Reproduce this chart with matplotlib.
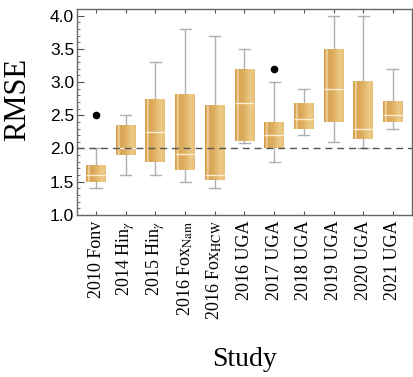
import numpy as np
import matplotlib
matplotlib.use("Agg")
from matplotlib import pyplot as plt
from matplotlib.colors import LinearSegmentedColormap
from matplotlib.patches import Rectangle

# box statistics
studies = ["2010 Fonv", "2014 Hin$_{\\gamma}$", "2015 Hin$_{\\gamma}$",
           "2016 Fox$_{\\rm Nam}$", "2016 Fox$_{\\rm HCW}$", "2016 UGA",
           "2017 UGA", "2018 UGA", "2019 UGA", "2020 UGA", "2021 UGA"]
whislo = [1.40, 1.60, 1.60, 1.50, 1.40, 2.09, 1.80, 2.20, 2.10, 2.00, 2.30]
q1 = [1.50, 1.90, 1.80, 1.67, 1.52, 2.12, 2.01, 2.30, 2.40, 2.15, 2.40]
med = [1.60, 2.00, 2.25, 1.91, 1.60, 2.69, 2.20, 2.45, 2.90, 2.30, 2.50]
q3 = [1.75, 2.35, 2.74, 2.82, 2.66, 3.20, 2.40, 2.69, 3.50, 3.02, 2.71]
whishi = [2.00, 2.50, 3.30, 3.80, 3.70, 3.50, 3.00, 2.90, 4.00, 4.00, 3.20]
fliers = [[2.50], [], [], [], [], [], [3.20], [], [], [], []]
baseline = 2.0

plt.rcParams['mathtext.fontset'] = 'stix'

stats = []
for i in range(len(studies)):
    stats.append(dict(whislo=whislo[i], q1=q1[i], med=med[i], q3=q3[i],
                      whishi=whishi[i], fliers=fliers[i], label=studies[i]))

fig = plt.figure(figsize=(4.14, 3.77), dpi=100)
ax = fig.add_axes([0.186, 0.430, 0.809, 0.546])

pos = np.arange(len(studies))
width = 0.67
bp = ax.bxp(stats, positions=pos, widths=width, showfliers=True,
            patch_artist=True,
            boxprops=dict(facecolor="none", edgecolor="none"),
            whiskerprops=dict(color="#b0b0b0", lw=1.0),
            capprops=dict(color="#b0b0b0", lw=1.0),
            medianprops=dict(color="#fbeed2", lw=1.0, zorder=4),
            flierprops=dict(marker="o", markerfacecolor="black",
                            markeredgecolor="black", markersize=4.5))
for cap in bp["caps"]:
    x = cap.get_xdata()
    c = x.mean()
    cap.set_xdata([c - width * 0.28, c + width * 0.28])

# glossy gold fill for each box
cmap = LinearSegmentedColormap.from_list("gold", [
    (0.0, "#d09a48"), (0.10, "#e2b468"), (0.14, "#fcefd0"),
    (0.19, "#d9a556"), (0.45, "#deae60"), (0.80, "#edca88"),
    (1.0, "#e7bf78")])
grad = np.linspace(0, 1, 64).reshape(1, -1)
for i in range(len(studies)):
    x0 = pos[i] - width / 2
    rect = Rectangle((x0, q1[i]), width, q3[i] - q1[i],
                     facecolor="none", edgecolor="none")
    ax.add_patch(rect)
    im = ax.imshow(grad, cmap=cmap, aspect="auto", zorder=3,
                   extent=[x0, x0 + width, q1[i], q3[i]])
    im.set_clip_path(rect)

ax.axhline(baseline, color="#555555", lw=1.0, ls=(0, (5, 3.5)), zorder=5)

ax.set_xlim(-0.64, len(studies) - 0.36)
ax.set_ylim(1.0, 4.1)
ax.set_yticks(np.arange(1.0, 4.01, 0.5))
ax.set_yticks(np.arange(1.0, 4.05, 0.1), minor=True)
ax.set_yticklabels(["%.1f" % v for v in np.arange(1.0, 4.01, 0.5)],
                   fontsize=12.5, family="Liberation Sans")
ax.set_xticks(pos)
ax.set_xticklabels(studies, rotation=90, fontsize=13,
                   family="Liberation Serif")
ax.tick_params(axis="x", which="both", direction="in", top=True,
               bottom=True, length=3, color="#555555", pad=4)
ax.tick_params(axis="y", which="major", direction="in", length=5,
               color="#555555", right=False, pad=2)
ax.tick_params(axis="y", which="minor", direction="in", length=2.5,
               color="#555555", right=False)
for s in ax.spines.values():
    s.set_color("#666666")
    s.set_linewidth(1.0)

ax.set_ylabel("RMSE", fontsize=22, family="Liberation Serif")
ax.yaxis.set_label_coords(-0.135, 0.56)
ax.set_xlabel("Study", fontsize=20, family="Liberation Serif", labelpad=19)

fig.savefig("out.png", dpi=100)
